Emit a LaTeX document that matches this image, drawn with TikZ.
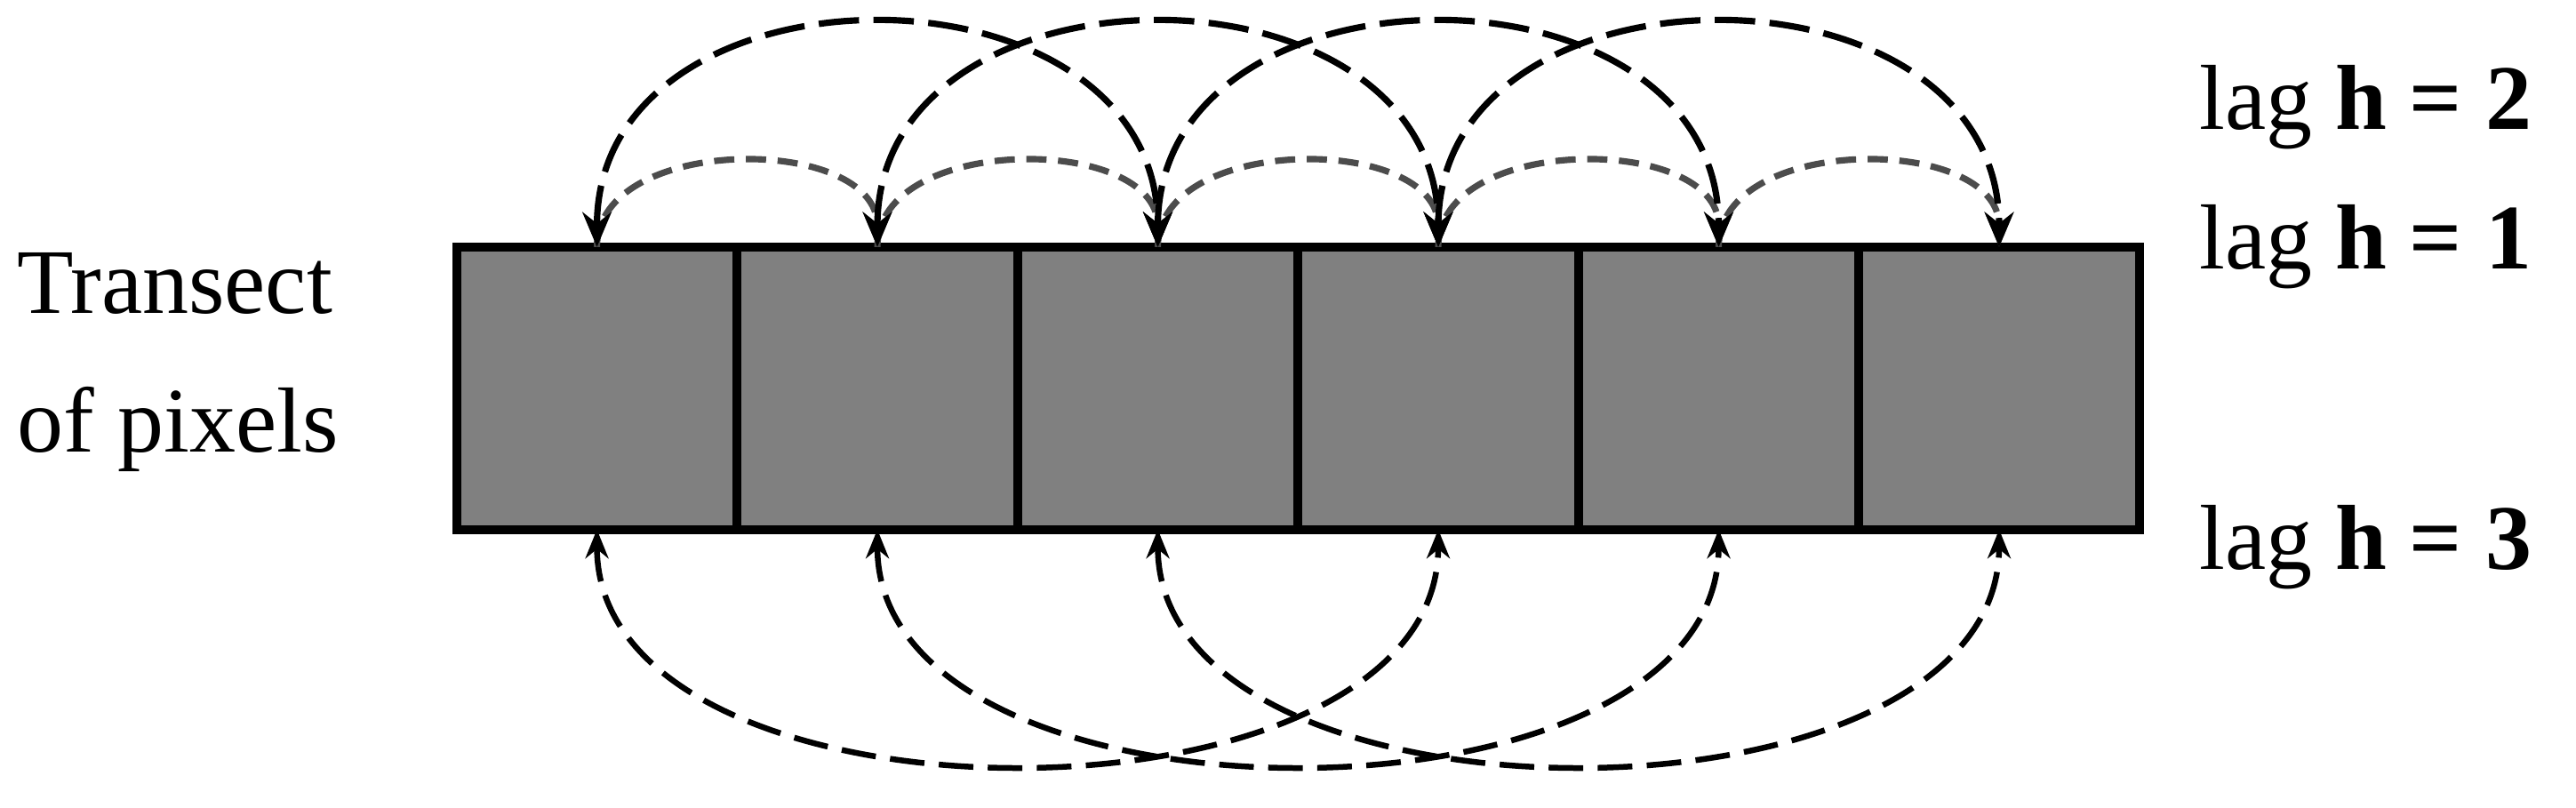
\documentclass[tikz,border=0pt]{standalone}
\usepackage{fontspec}
\setmainfont{Liberation Serif}
\usetikzlibrary{arrows.meta}
\begin{document}
\begin{tikzpicture}[
  cell/.style={draw=black,fill=black!50,line width=1.5pt,minimum width=1.707cm,minimum height=1.72cm,inner sep=0,outer sep=0},
  lagone/.style={draw=black!70,line width=1.1pt,dash pattern=on 3.5pt off 2pt,-{Stealth[length=6pt,width=5pt]}},
  lagtwo/.style={draw=black,line width=1.1pt,dash pattern=on 7pt off 2.5pt,{Stealth[length=6pt,width=5pt]}-{Stealth[length=6pt,width=5pt]}},
  lagthree/.style={draw=black,line width=1pt,dash pattern=on 6pt off 2.5pt,{Stealth[length=5pt,width=4pt]}-{Stealth[length=5pt,width=4pt]}},
  lbl/.style={font=\fontsize{16}{20}\selectfont,anchor=west,inner sep=0}
]
\useasboundingbox (0,0) rectangle (15.68,4.913);
\foreach \i [evaluate=\i as \x using 2.78+0.8535+(\i-1)*1.707] in {1,...,6}{
  \node[cell] (c\i) at (\x,2.55) {};
  \coordinate (t\i) at (\x,3.41);
  \coordinate (b\i) at (\x,1.69);
}
\foreach \a/\b in {1/2,2/3,3/4,4/5,5/6}
  \draw[lagone] (t\a) .. controls ([yshift=0.69cm]t\a) and ([yshift=0.69cm]t\b) .. (t\b);
\foreach \a/\b in {1/3,2/4,3/5,4/6}
  \draw[lagtwo] (t\a) .. controls ([yshift=1.8cm]t\a) and ([yshift=1.8cm]t\b) .. (t\b);
\foreach \a/\b in {1/4,2/5,3/6}
  \draw[lagthree] (b\a) .. controls ([yshift=-1.9cm]b\a) and ([yshift=-1.9cm]b\b) .. (b\b);
\node[lbl] (l2) at (13.38,4.26) {lag \textbf{h = 2}};
\node[lbl] (l1) at (13.38,3.41) {lag \textbf{h = 1}};
\node[lbl] (l3) at (13.38,1.58) {lag \textbf{h = 3}};
\node[font=\fontsize{16}{24}\selectfont,align=left,anchor=west,inner sep=0] (tr) at (0.1,2.71) {Transect\\of pixels};
\end{tikzpicture}
\end{document}
